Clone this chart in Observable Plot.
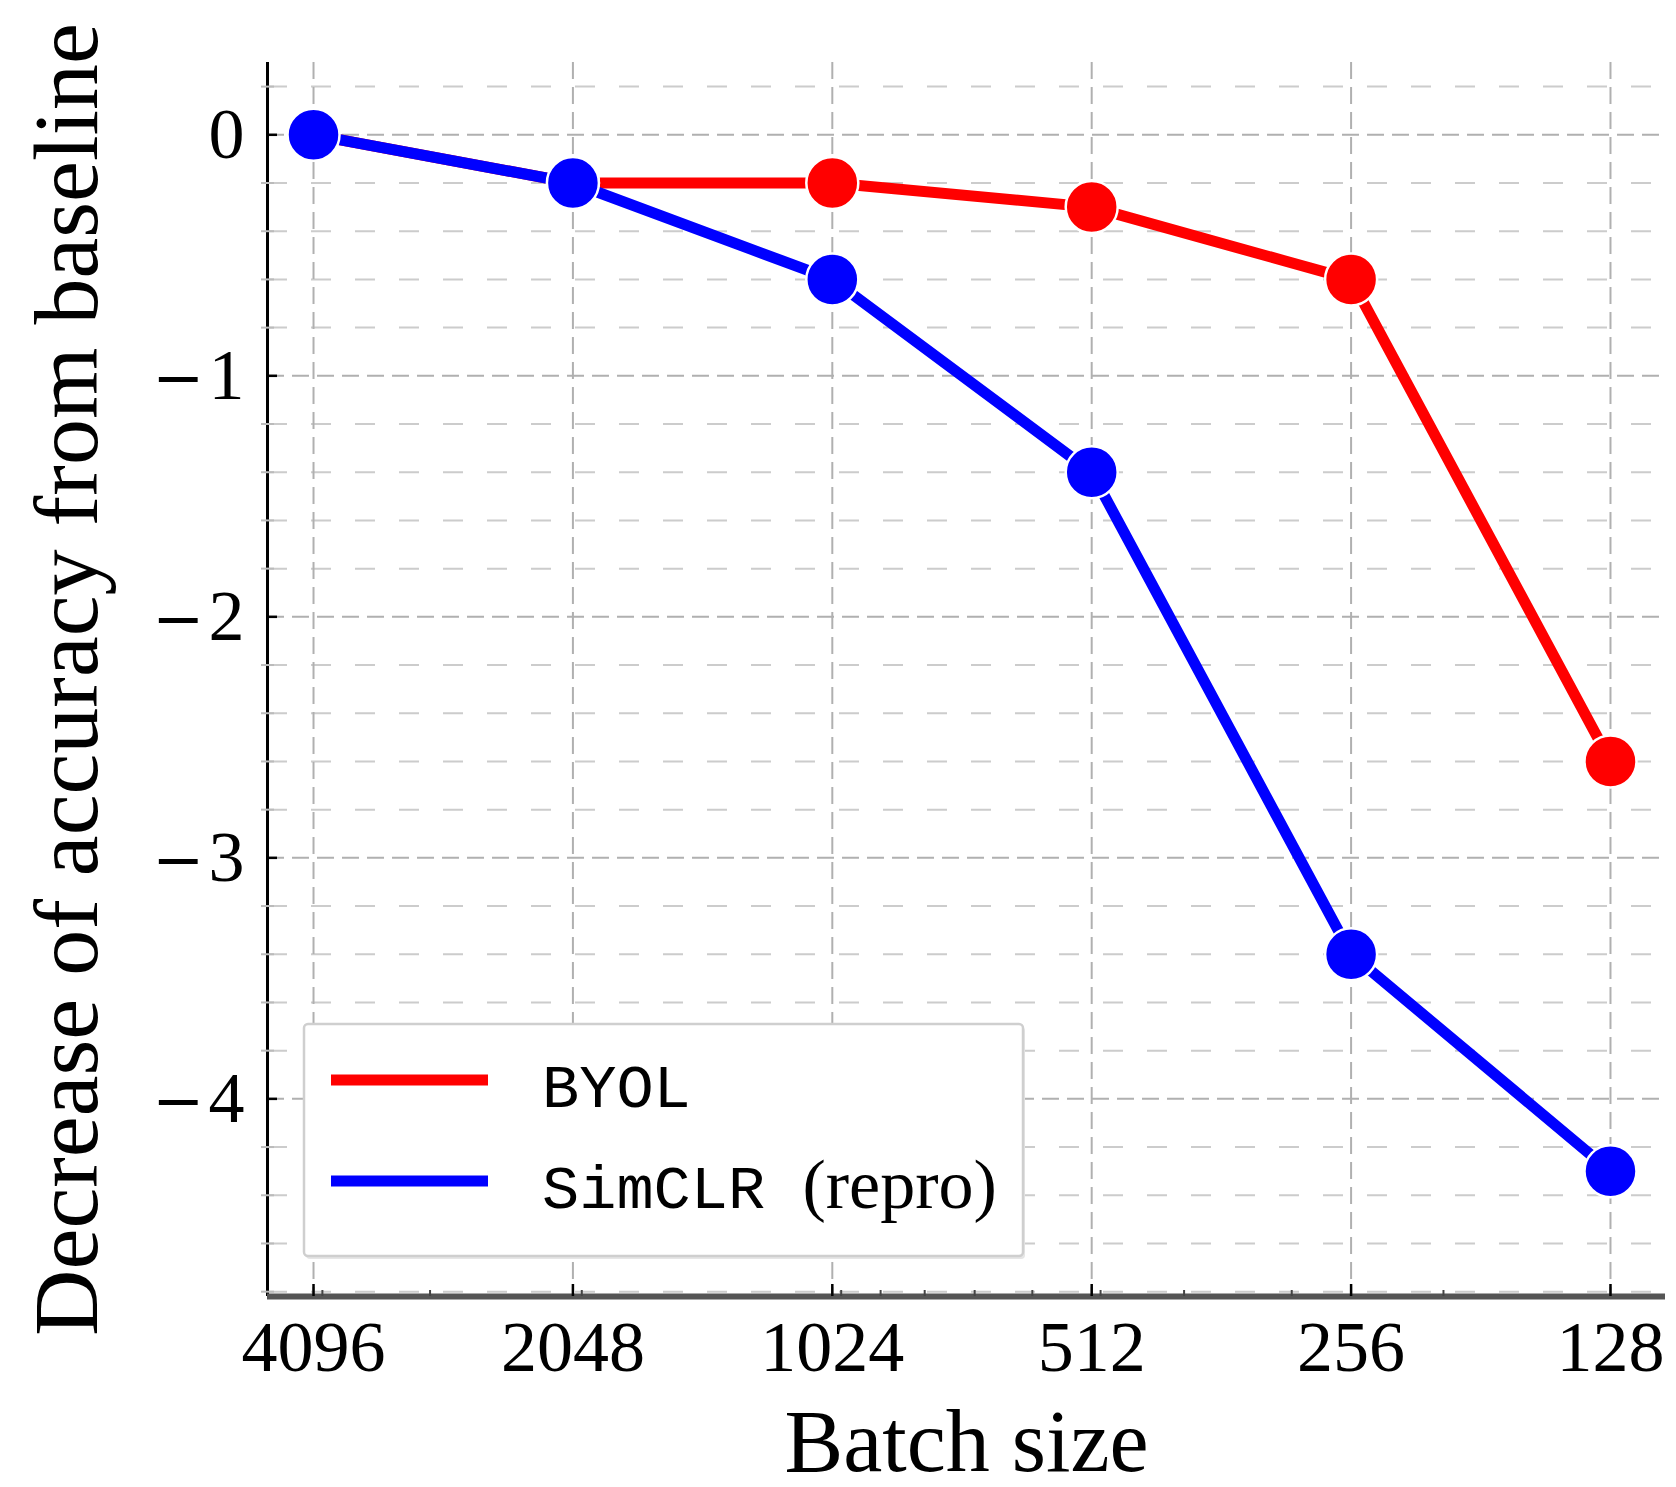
<!DOCTYPE html>
<html>
<head>
<meta charset="utf-8">
<script src="https://cdn.jsdelivr.net/npm/d3@7"></script>
<script src="https://cdn.jsdelivr.net/npm/@observablehq/plot@0.6"></script>
<style>
  html, body { margin: 0; padding: 0; background: #fff; }
</style>
</head>
<body>
<div id="chart"></div>
<script>
// ---- data ----
const batchSizes = [4096, 2048, 1024, 512, 256, 128];
const byolValues = [0, -0.2, -0.2, -0.3, -0.6, -2.6];
const simclrValues = [0, -0.2, -0.6, -1.4, -3.4, -4.3];
const seriesNames = ["BYOL", "SimCLR (repro)"];
const seriesColors = ["#ff0000", "#0000ff"];
const yMajorTicks = [0, -1, -2, -3, -4];
const yMinorTicks = [0.2, -0.2, -0.4, -0.6, -0.8, -1.2, -1.4, -1.6, -1.8, -2.2, -2.4, -2.6, -2.8, -3.2, -3.4, -3.6, -3.8, -4.2, -4.4, -4.6, -4.8];
const xMinorTicks = [4000, 3000, 2000, 1000, 900, 800, 700, 600, 500, 400, 300, 200];
const xLabel = "Batch size";
const yLabel = "Decrease of accuracy from baseline";

const byol = batchSizes.map((b, i) => ({batch: b, value: byolValues[i]}));
const simclr = batchSizes.map((b, i) => ({batch: b, value: simclrValues[i]}));

// ---- layout ----
const W = 1676, H = 1487;
const mL = 267, mR = 11, mT = 62, mB = 191;
const xDomain = [4632, 110.5];
const yDomain = [-4.82, 0.30];
const pxPerLog2 = (W - mL - mR) / Math.log2(xDomain[0] / xDomain[1]);
const pxPerUnit = (H - mT - mB) / (yDomain[1] - yDomain[0]);
const xIn = px => xDomain[0] / Math.pow(2, px / pxPerLog2);
const yIn = px => yDomain[0] + px / pxPerUnit;
const fmtY = d => d < 0 ? "\u2212" + Math.abs(d) : String(d);

const chart = Plot.plot({
  width: W,
  height: H,
  marginLeft: mL,
  marginRight: mR,
  marginTop: mT,
  marginBottom: mB,
  style: {fontFamily: "'Liberation Serif', 'DejaVu Serif', serif", background: "#fff", color: "#000", overflow: "visible"},
  x: {type: "log", domain: xDomain, axis: null},
  y: {domain: yDomain, axis: null},
  marks: [
    // minor horizontal grid
    Plot.gridY(yMinorTicks, {stroke: "#cccccc", strokeOpacity: 1, strokeWidth: 2, strokeDasharray: "20,24"}),
    // major grids
    Plot.gridY(yMajorTicks, {stroke: "#b0b0b0", strokeOpacity: 1, strokeWidth: 2, strokeDasharray: "17,8"}),
    Plot.gridX(batchSizes, {stroke: "#b0b0b0", strokeOpacity: 1, strokeWidth: 2, strokeDasharray: "17,8"}),
    // axis lines
    Plot.ruleX([xDomain[0]], {stroke: "#000", strokeWidth: 3}),
    Plot.ruleY([yDomain[0]], {stroke: "#555", strokeWidth: 6}),
    // inward ticks
    Plot.ruleY(yMajorTicks, {x1: xDomain[0], x2: xIn(10), stroke: "#000", strokeWidth: 2.5}),
    Plot.ruleY(yMinorTicks, {x1: xIn(-6), x2: xIn(7), stroke: "#bbb", strokeWidth: 2}),
    Plot.ruleX(batchSizes, {y1: yDomain[0], y2: yIn(12), stroke: "#000", strokeWidth: 2.5}),
    Plot.ruleX(xMinorTicks, {y1: yDomain[0], y2: yIn(6), stroke: "#444", strokeWidth: 2}),
    // tick labels
    Plot.axisX({ticks: batchSizes, tickSize: 0, tickPadding: 23, tickFormat: d => String(d), fontSize: 72, label: null}),
    Plot.axisY({ticks: yMajorTicks, tickSize: 0, tickPadding: 23, tickFormat: fmtY, fontSize: 72, label: null}),
    // series
    Plot.line(byol, {x: "batch", y: "value", stroke: seriesColors[0], strokeWidth: 11}),
    Plot.dot(byol, {x: "batch", y: "value", r: 26, fill: seriesColors[0], stroke: "#fff", strokeWidth: 2.5}),
    Plot.line(simclr, {x: "batch", y: "value", stroke: seriesColors[1], strokeWidth: 11}),
    Plot.dot(simclr, {x: "batch", y: "value", r: 26, fill: seriesColors[1], stroke: "#fff", strokeWidth: 2.5}),
    // axis titles
    Plot.text([xLabel], {frameAnchor: "bottom", dy: 146, fontSize: 88, lineAnchor: "middle", textAnchor: "middle"}),
    Plot.text([yLabel], {frameAnchor: "left", dx: -200, rotate: -90, fontSize: 92, lineAnchor: "middle", textAnchor: "middle"})
  ]
});

document.getElementById("chart").appendChild(chart);

const svg = d3.select(chart);

// widen the minus sign of the y tick labels (math-style minus)
svg.selectAll('g[aria-label="y-axis tick label"] text').each(function() {
  const el = d3.select(this);
  const s = el.text();
  if (s.startsWith("\u2212")) {
    el.text(null);
    el.append("tspan").attr("font-family", "'DejaVu Serif', serif").attr("font-size", 62).attr("dx", 0).text("\u2212");
    el.append("tspan").attr("dx", 4).text(s.slice(1));
  }
});

// ---- legend (inside the plot, lower left) ----
const lg = svg.append("g").attr("class", "legend").attr("text-anchor", "start");
lg.append("rect")
  .attr("x", 306).attr("y", 1027).attr("width", 719).attr("height", 232)
  .attr("rx", 4).attr("fill", "#e6e6e6");
lg.append("rect")
  .attr("x", 304).attr("y", 1024).attr("width", 719).attr("height", 232)
  .attr("rx", 4).attr("fill", "#fff").attr("stroke", "#cfcfcf").attr("stroke-width", 2.5);
const rowsY = [1080, 1181];
seriesNames.forEach((name, i) => {
  lg.append("line")
    .attr("x1", 331).attr("x2", 488).attr("y1", rowsY[i]).attr("y2", rowsY[i])
    .attr("stroke", seriesColors[i]).attr("stroke-width", 11);
  const t = lg.append("text")
    .attr("x", 542).attr("y", rowsY[i] + 27)
    .attr("text-anchor", "start")
    .attr("font-size", 62)
    .attr("fill", "#000");
  const m = name.match(/^(\S+)(\s*)(.*)$/);
  t.append("tspan").attr("font-family", "'Liberation Mono', 'DejaVu Sans Mono', monospace").text(m[1] + m[2]);
  if (m[3]) t.append("tspan").attr("font-family", "'Liberation Serif', serif").attr("font-size", 70).text(m[3]);
});
</script>
</body>
</html>
